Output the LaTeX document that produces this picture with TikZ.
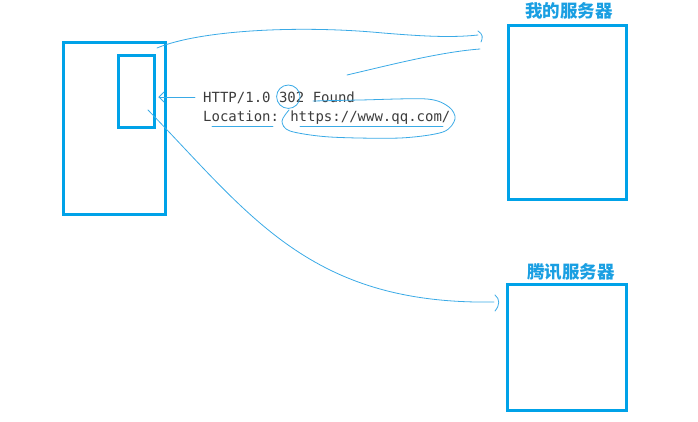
\documentclass[tikz,border=0pt]{standalone}
\usepackage{fontspec}
\newfontfamily\cjk{Noto Sans CJK SC}
\newfontfamily\codefont{DejaVu Sans Mono}
\definecolor{boxblue}{HTML}{00A2E8}
\definecolor{penblue}{HTML}{3AAAE6}
\definecolor{labelblue}{HTML}{1A9FE2}
\definecolor{codegray}{HTML}{3C3C3C}
\begin{document}
\begin{tikzpicture}[x=1pt,y=-1pt,
  box/.style={draw=boxblue,line width=3pt,minimum width=#1,inner sep=0pt,outer sep=0pt},
  pen/.style={draw=penblue,line width=0.8pt,line cap=round,line join=round},
  srvlabel/.style={font=\cjk\bfseries\fontsize{17.5}{20}\selectfont,text=labelblue,inner sep=0pt},
  code/.style={font=\codefont\fontsize{14}{16}\selectfont,text=codegray,inner sep=0pt,anchor=base west}]
\useasboundingbox (0,0) rectangle (698,421);
% boxes
\node[box=102pt,minimum height=172pt] (client) at (114,128) {};
\node[box=36pt,minimum height=72pt] (tab) at (136,91) {};
\node[box=118pt,minimum height=174pt] (mine) at (567,112) {};
\node[box=119pt,minimum height=126pt] (qq) at (566.5,347) {};
% labels
\node[srvlabel] (minelabel) at (569,11) {我的服务器};
\node[srvlabel] (qqlabel) at (571,272) {腾讯服务器};
% response text
\node[code] (line1) at (203,102) {HTTP/1.0 302 Found};
\node[code] (line2) at (203,121) {Location: https://www.qq.com/};
% hand-drawn strokes
\coordinate (reqstart) at (157,48);
\coordinate (reqend) at (478,35);
\draw[pen] (reqstart) .. controls (200,30) and (300,25) .. (383,33) .. controls (420,36) and (450,38) .. (reqend);
\draw[pen] (478,31) .. controls (483,34) and (483,38) .. (481,42);
\coordinate (respstart) at (480,49);
\coordinate (respend) at (347,75);
\draw[pen] (respstart) .. controls (440,52) and (390,65) .. (respend);
% arrow to tab
\coordinate (arrowtip) at (159,97);
\draw[pen] (195,97) -- (arrowtip);
\draw[pen] (164,92) -- (arrowtip) -- (164,102);
% circle around 302
\draw[pen] (288.3,96.7) ellipse [x radius=11.7, y radius=11.7];
% underline Found + loop around URL
\draw[pen] plot[smooth] coordinates {(313,101) (360,100) (427,99) (449,107) (455,119) (443,132) (400,138) (330,137) (290,131) (282,121) (289,110)};
% underlines
\draw[pen] (212,126) -- (273,126);
\draw[pen] (300,126) -- (443,126);
% redirect curve to qq
\coordinate (redirstart) at (148,110);
\coordinate (redirend) at (494,302);
\draw[pen] (redirstart) .. controls (250,215) and (310,305) .. (redirend);
\draw[pen] (495,295) .. controls (500,299) and (500,305) .. (495,311);
\end{tikzpicture}
\end{document}
